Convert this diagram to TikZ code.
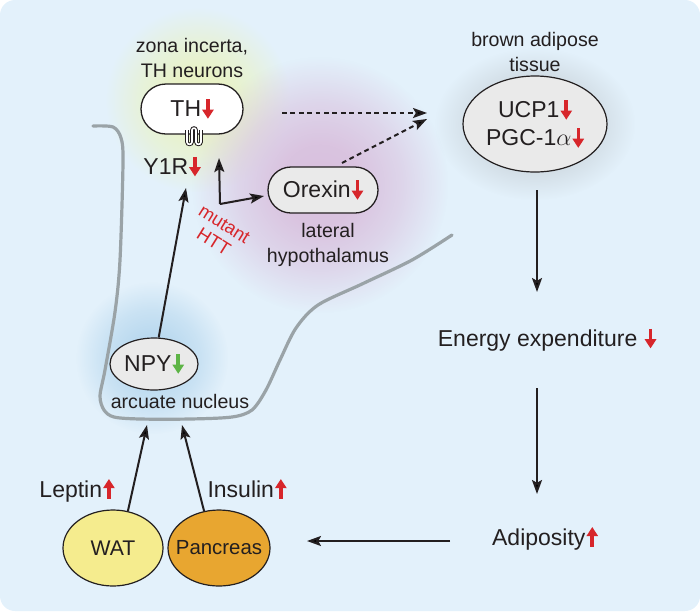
\documentclass[tikz,border=0pt]{standalone}
\usepackage{fontspec}
\setmainfont{Liberation Sans}
\usetikzlibrary{arrows.meta,fadings,shapes.geometric}
\definecolor{bgc}{HTML}{E3F1FB}
\definecolor{txt}{HTML}{231F20}
\definecolor{redc}{HTML}{D7262B}
\definecolor{greenc}{HTML}{5DB446}
\definecolor{curvec}{HTML}{9AA3A7}
\definecolor{watc}{HTML}{F5EC8E}
\definecolor{panc}{HTML}{E8A630}
\definecolor{boxgray}{HTML}{EAEAEA}
\definecolor{glowY}{HTML}{EAF3C2}
\definecolor{glowP}{HTML}{D9BFDD}
\definecolor{glowG}{HTML}{C6CFD6}
\definecolor{glowB}{HTML}{B6D7EE}
\pgfdeclareradialshading{glowshade}{\pgfpointorigin}{color(0bp)=(black!0); color(8bp)=(black!10); color(16bp)=(black!45); color(25bp)=(black!100); color(50bp)=(black!100)}
\pgfdeclarefading{glowfade}{\pgfuseshading{glowshade}}
\newcommand{\dn}[1]{\hspace{0.6pt}\tikz[baseline=0pt]{\draw[#1, line width=1.8pt, -{Triangle[length=4.6pt,width=5.6pt]}] (0pt,8.6pt) -- (0pt,-1.2pt);}}
\newcommand{\upa}[1]{\hspace{0.6pt}\tikz[baseline=0pt]{\draw[#1, line width=1.8pt, -{Triangle[length=4.6pt,width=5.6pt]}] (0pt,-0.8pt) -- (0pt,9pt);}}
\begin{document}
\begin{tikzpicture}[x=0.5pt,y=-0.5pt,
  bigf/.style={font=\fontsize{11.5}{13.5}\selectfont, text=txt},
  smallf/.style={font=\fontsize{9.8}{12.3}\selectfont, text=txt, align=center},
  pill/.style={draw=txt, line width=0.65pt, rectangle, inner sep=0pt},
  oval/.style={draw=txt, line width=0.6pt, ellipse, inner sep=0pt},
  arr/.style={draw=txt, line width=1pt, -{Stealth[length=7pt,width=5pt,inset=1.4pt]}},
  darr/.style={arr, dash pattern=on 2.4pt off 1.8pt}]
\useasboundingbox (0,0) rectangle (700,611);
\fill[bgc, rounded corners=7.5pt] (0,0) rectangle (700,611);
% glows
\fill[glowY, path fading=glowfade] (198,100) circle (46pt);
\fill[glowP, path fading=glowfade] (320,185) circle (64pt);
\fill[glowG, path fading=glowfade] (535,124) ellipse (50pt and 38pt);
\fill[glowB, path fading=glowfade] (152,358) circle (38pt);
% hypothalamus outline
\draw[curvec, line width=1.6pt, line cap=round] plot[smooth, tension=0.5] coordinates {(93,126) (113,127) (121,138) (123,162) (120,260) (115,312) (105,370) (100,396) (104,410) (114,417) (140,419) (190,419) (232,417) (252,410) (266,390) (280,360) (296,328) (318,305) (362,284) (412,260) (452,235)};
% labels
\node[smallf] (zona) at (192,58) {zona incerta,\\TH neurons};
\node[smallf] (bat lbl) at (535,52) {brown adipose\\tissue};
\node[smallf] (lh lbl) at (328,245) {lateral\\hypothalamus};
\node[smallf] (arc lbl) at (180,401) {arcuate nucleus};
% main nodes
\node[pill, fill=white, minimum width=51pt, minimum height=25pt, rounded corners=12.5pt, bigf] (th) at (192,109) {TH\dn{redc}};
\draw[txt, line width=1.8pt] (187,130) -- (187,142) to[out=-90,in=-90,looseness=1.6] (192,142) -- (192,130) to[out=90,in=90,looseness=1.6] (196,130) -- (196,142) to[out=-90,in=-90,looseness=1.6] (201,142) -- (201,130);
\draw[white, line width=0.8pt] (187,126) -- (187,142) to[out=-90,in=-90,looseness=1.6] (192,142) -- (192,130) to[out=90,in=90,looseness=1.6] (196,130) -- (196,142) to[out=-90,in=-90,looseness=1.6] (201,142) -- (201,126);
\node[bigf, anchor=base] (y1r) at (172,174) {Y1R\dn{redc}};
\node[pill, fill=boxgray, minimum width=55pt, minimum height=23pt, rounded corners=11.5pt, bigf] (orx) at (323,190) {Orexin\dn{redc}};
\node[oval, fill=boxgray, minimum width=72pt, minimum height=48pt, bigf, align=center] (bat) at (535,124) {UCP1\dn{redc}\\[0.6pt]PGC-1$\alpha$\dn{redc}};
\node[oval, fill=boxgray, minimum width=44pt, minimum height=26pt, bigf] (npy) at (154,364) {\makebox[0pt]{NPY\dn{greenc}}};
\node[oval, fill=watc, minimum width=50pt, minimum height=38pt, font=\fontsize{10.6}{12}\selectfont, text=txt] (wat) at (113,548) {\makebox[0pt]{WAT}};
\node[oval, fill=panc, minimum width=51pt, minimum height=38pt, font=\fontsize{10.2}{12}\selectfont, text=txt] (pan) at (219,548) {\makebox[0pt]{Pancreas}};
\node[bigf, anchor=base] (lep) at (77,497) {Leptin\upa{redc}};
\node[bigf, anchor=base] (ins) at (247,497) {Insulin\upa{redc}};
\node[bigf, anchor=base] (ee) at (547,346) {Energy expenditure \dn{redc}};
\node[bigf, anchor=base] (adi) at (545,545) {Adiposity\upa{redc}};
\node[font=\fontsize{9.2}{10}\selectfont, text=redc, align=center, rotate=-32, inner sep=1pt] (mut lbl) at (219,233) {mutant\\HTT};
% connector end points
\coordinate (mut) at (220,204);
\coordinate (y1rtip) at (186,188);
\coordinate (thtip) at (219,158);
\coordinate (orxtip) at (264,196);
\coordinate (arctipL) at (147,425);
\coordinate (arctipR) at (182,425);
\coordinate (batL1) at (427,113);
\coordinate (batL2) at (427,119);
\coordinate (thR) at (282,113);
\coordinate (orxT) at (342,163);
\coordinate (batS) at (537,190);
\coordinate (eeN) at (537,292);
\coordinate (eeS) at (537,388);
\coordinate (adiN) at (537,494);
\coordinate (adiW) at (450,541);
\coordinate (panE) at (307,541);
% arrows
\draw[arr] (npy.80) -- (y1rtip);
\draw[arr] (mut) -- (thtip);
\draw[arr] (mut) -- (orxtip);
\draw[arr] (wat.68) -- (arctipL);
\draw[arr] (pan.112) -- (arctipR);
\draw[darr] (thR) -- (batL1);
\draw[darr] (orxT) -- (batL2);
\draw[arr] (batS) -- (eeN);
\draw[arr] (eeS) -- (adiN);
\draw[arr] (adiW) -- (panE);
\end{tikzpicture}
\end{document}
